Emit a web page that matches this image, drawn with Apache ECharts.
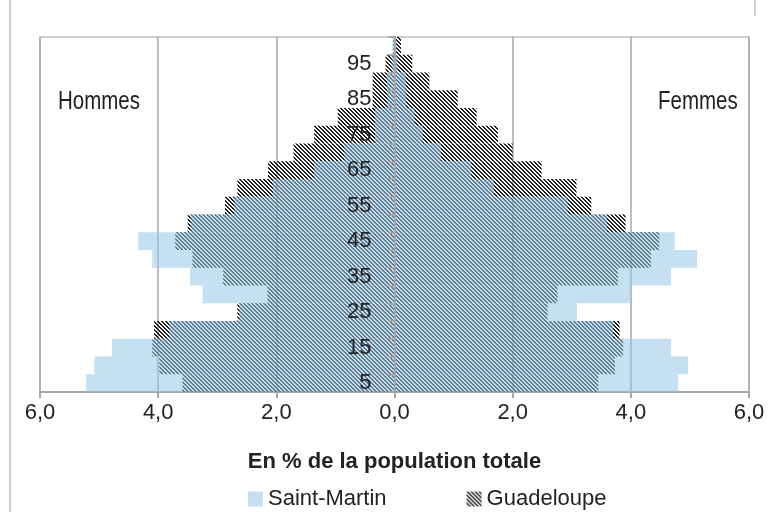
<!DOCTYPE html>
<html><head><meta charset="utf-8">
<script src="https://cdn.jsdelivr.net/npm/echarts@6/dist/echarts.min.js"></script>
<style>html,body{margin:0;padding:0;background:#fff}#c{width:769px;height:512px}</style>
</head><body><div id="c"></div>
<script>
// Age groups (category labels, every other shown)
const categories = ['5','10','15','20','25','30','35','40','45','50','55','60','65','70','75','80','85','90','95','100'];
// Saint-Martin, % of total population
const smHommes = [5.22,5.08,4.78,3.81,2.63,3.25,3.46,4.10,4.34,3.45,2.71,2.06,1.36,0.85,0.33,0.33,0.12,0.13,0.05,0.04];
const smFemmes = [4.80,4.97,4.68,3.70,3.09,4.00,4.68,5.12,4.74,3.60,2.93,1.68,1.30,0.79,0.48,0.34,0.20,0.19,0.05,0.03];
// Guadeloupe, % of total population
const gdHommes = [3.59,3.98,4.10,4.07,2.66,2.15,2.90,3.42,3.71,3.50,2.87,2.66,2.14,1.71,1.36,0.96,0.37,0.37,0.15,0.02];
const gdFemmes = [3.45,3.73,3.87,3.81,2.59,2.76,3.78,4.34,4.48,3.91,3.33,3.08,2.49,2.00,1.75,1.39,1.07,0.59,0.30,0.11];

const FONT = "'Liberation Sans',Arial,sans-serif";

function hatch(){
  const c = document.createElement('canvas');
  c.width = 4; c.height = 4;
  const ctx = c.getContext('2d');
  const img = ctx.createImageData(4,4);
  for(let y=0;y<4;y++)for(let x=0;x<4;x++){
    const k=(y*4+x)*4;
    if(((x-y)%4+4)%4<2){img.data[k]=30;img.data[k+1]=30;img.data[k+2]=30;img.data[k+3]=255;}
  }
  ctx.putImageData(img,0,0);
  return c;
}
const pat = {image: hatch(), repeat:'repeat'};
const blue = 'rgba(152,198,234,0.55)';

const chart = echarts.init(document.getElementById('c'), null, {renderer:'canvas'});
const neg = a => a.map(v => -v);
chart.setOption({
  animation:false,
  textStyle:{fontFamily:FONT},
  grid:{left:40,right:20,top:37,bottom:120,show:true,borderColor:'#bdbdbd',borderWidth:1.5},
  legend:{left:243,top:483,itemWidth:15,itemHeight:15,itemGap:80,icon:'rect',
    textStyle:{fontFamily:FONT,fontSize:22,color:'#222'},
    data:['Saint-Martin','Guadeloupe']},
  xAxis:{type:'value',min:-6,max:6,interval:2,
    axisLine:{show:true,lineStyle:{color:'#a6a6a6',width:2}},
    axisTick:{show:true,length:6,lineStyle:{color:'#a6a6a6',width:2}},
    splitLine:{show:true,lineStyle:{color:'#a6a6a6',width:1.5}},
    axisLabel:{fontFamily:FONT,fontSize:22,color:'#222',margin:10,
      formatter:v=>Math.abs(v).toFixed(1).replace('.',',')},
    name:'En % de la population totale',nameLocation:'middle',nameGap:59,
    nameTextStyle:{fontFamily:FONT,fontSize:22,fontWeight:'bold',color:'#222'}},
  yAxis:{type:'category',data:categories,z:10,position:'left',offset:-354.5,
    axisLine:{show:true,onZero:false,lineStyle:{color:'#a6a6a6',width:2}},
    axisTick:{show:true,interval:0,length:6,lineStyle:{color:'#a6a6a6',width:2}},
    axisLabel:{interval:1,fontFamily:FONT,fontSize:22,color:'#222',margin:23},
    splitLine:{show:false}},
  graphic:[
    {type:'text',left:58,top:90,scaleX:0.82,style:{text:'Hommes',fontFamily:FONT,fontSize:25,fill:'#222'}},
    {type:'text',left:658,top:90,scaleX:0.82,style:{text:'Femmes',fontFamily:FONT,fontSize:25,fill:'#222'}},
    {type:'line',shape:{x1:10,y1:0,x2:10,y2:512},style:{stroke:'#bdbdbd',lineWidth:1.5}},
    {type:'line',shape:{x1:755,y1:0,x2:755,y2:16},style:{stroke:'#bdbdbd',lineWidth:1.5}}
  ],
  series:[
    {name:'Saint-Martin',type:'bar',stack:'sm',data:neg(smHommes),barGap:'-100%',barCategoryGap:0,itemStyle:{color:blue},z:3},
    {name:'Saint-Martin',type:'bar',stack:'sm',data:smFemmes,barGap:'-100%',barCategoryGap:0,itemStyle:{color:blue},z:3},
    {name:'Guadeloupe',type:'bar',stack:'gd',data:neg(gdHommes),barGap:'-100%',barCategoryGap:0,itemStyle:{color:pat},z:2},
    {name:'Guadeloupe',type:'bar',stack:'gd',data:gdFemmes,barGap:'-100%',barCategoryGap:0,itemStyle:{color:pat},z:2}
  ]
});
</script></body></html>
